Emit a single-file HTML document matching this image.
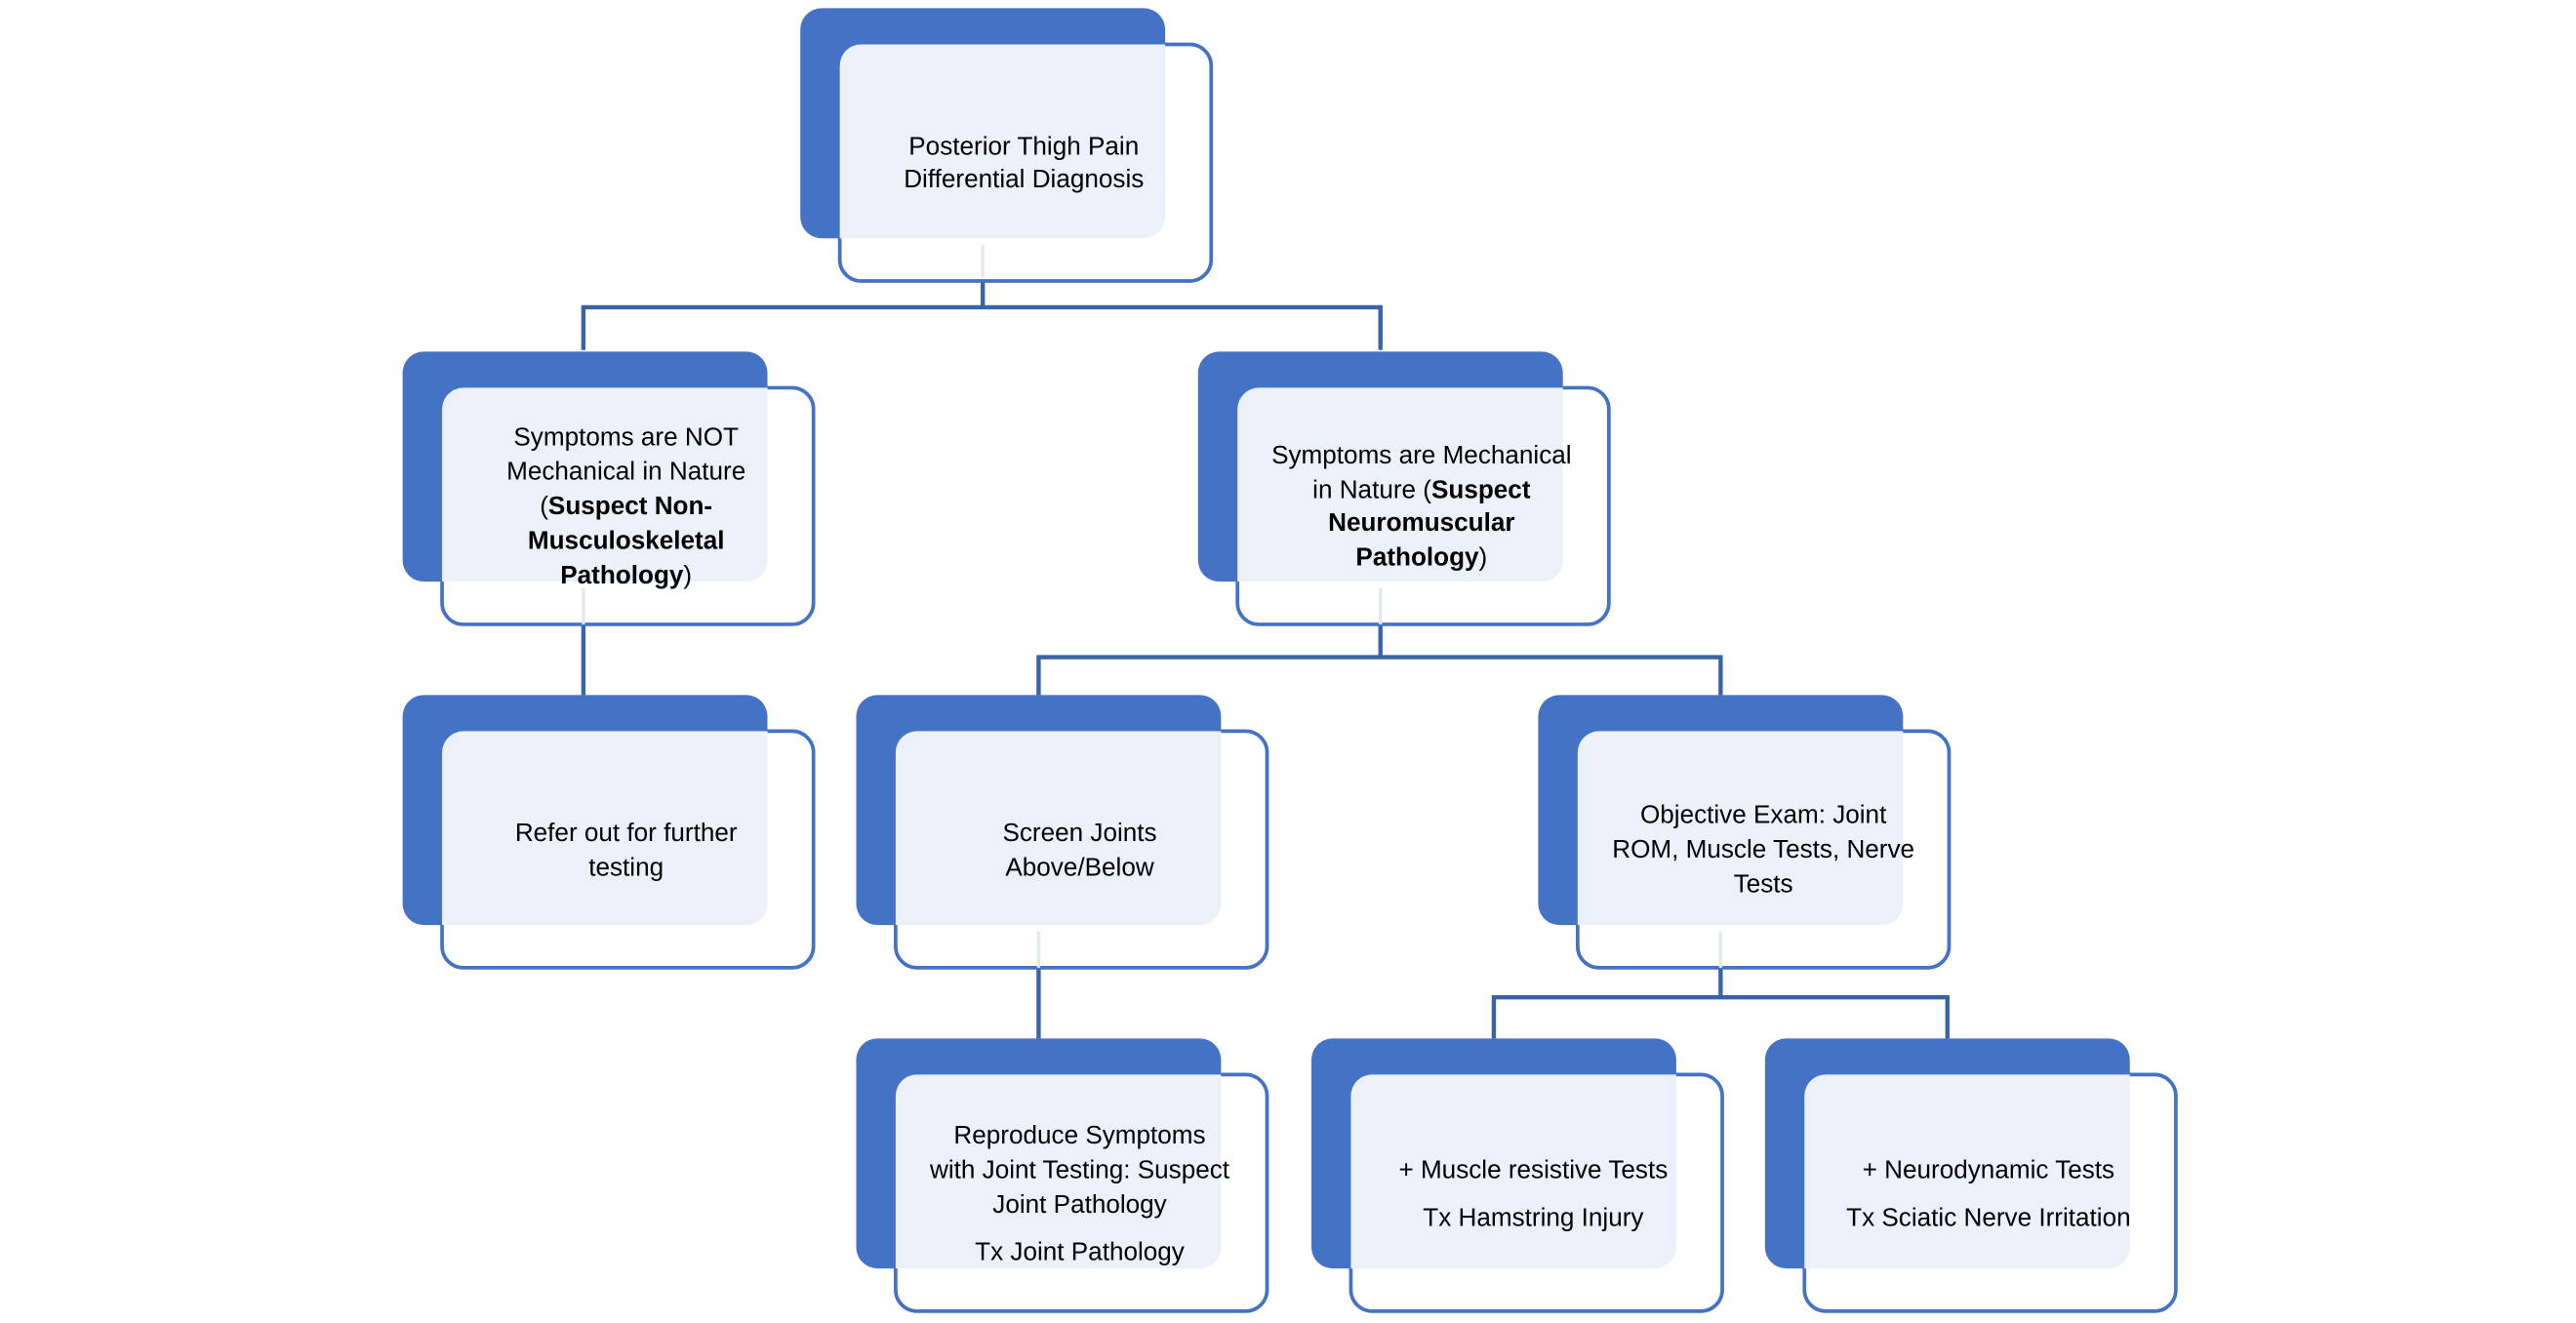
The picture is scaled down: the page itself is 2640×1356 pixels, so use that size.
<!DOCTYPE html>
<html><head><meta charset="utf-8"><style>
html,body{margin:0;padding:0;background:#fff;}
svg{display:block;}
text{font-family:"Liberation Sans",sans-serif;font-size:15.5px;fill:#000;text-anchor:middle;}
.b{font-weight:bold;}
</style></head><body>
<svg width="2640" height="1356" viewBox="0 0 1567.5 805.2" preserveAspectRatio="none" xmlns="http://www.w3.org/2000/svg">
<g stroke="#3A62A8" stroke-width="2.6" fill="none">
<polyline points="598,169 598,187"/>
<polyline points="355,213 355,187 840,187 840,213"/>
<polyline points="355,380 355,423"/>
<polyline points="840,380 840,400"/>
<polyline points="632,423 632,400 1047,400 1047,423"/>
<polyline points="632,589 632,632"/>
<polyline points="1047,589 1047,607"/>
<polyline points="909,632 909,607 1185,607 1185,632"/>
</g>
<defs>
<g id="n">
<rect x="0" y="0" width="222" height="140" rx="13" fill="#4472C4"/>
<rect x="24" y="22" width="226" height="144" rx="13" fill="#fff" stroke="#4472C4" stroke-width="2.2"/>
<path d="M24,35 a13,13 0 0 1 13,-13 H222 V127 a13,13 0 0 1 -13,13 H24 Z" fill="#ECF0F9"/>
</g>
</defs>
<use href="#n" x="487" y="5"/>
<use href="#n" x="245" y="214"/>
<use href="#n" x="729" y="214"/>
<use href="#n" x="245" y="423"/>
<use href="#n" x="521" y="423"/>
<use href="#n" x="936" y="423"/>
<use href="#n" x="521" y="632"/>
<use href="#n" x="798" y="632"/>
<use href="#n" x="1074" y="632"/>
<g stroke="#E3E8F3" stroke-width="2">
<line x1="598" y1="149" x2="598" y2="169"/>
<line x1="355" y1="358" x2="355" y2="380"/>
<line x1="840" y1="358" x2="840" y2="380"/>
<line x1="632" y1="567" x2="632" y2="589"/>
<line x1="1047" y1="567" x2="1047" y2="589"/>
</g>
<text x="623" y="94">Posterior Thigh Pain</text>
<text x="623" y="114">Differential Diagnosis</text>
<text x="381" y="271">Symptoms are NOT</text>
<text x="381" y="292">Mechanical in Nature</text>
<text x="381" y="313">(<tspan class="b">Suspect Non-</tspan></text>
<text x="381" y="334" class="b">Musculoskeletal</text>
<text x="381" y="355"><tspan class="b">Pathology</tspan>)</text>
<text x="865" y="282">Symptoms are Mechanical</text>
<text x="865" y="303">in Nature (<tspan class="b">Suspect</tspan></text>
<text x="865" y="323" class="b">Neuromuscular</text>
<text x="865" y="344"><tspan class="b">Pathology</tspan>)</text>
<text x="381" y="512">Refer out for further</text>
<text x="381" y="533">testing</text>
<text x="657" y="512">Screen Joints</text>
<text x="657" y="533">Above/Below</text>
<text x="1073" y="501">Objective Exam: Joint</text>
<text x="1073" y="522">ROM, Muscle Tests, Nerve</text>
<text x="1073" y="543">Tests</text>
<text x="657" y="696">Reproduce Symptoms</text>
<text x="657" y="717">with Joint Testing: Suspect</text>
<text x="657" y="738">Joint Pathology</text>
<text x="657" y="767">Tx Joint Pathology</text>
<text x="933" y="717">+ Muscle resistive Tests</text>
<text x="933" y="746">Tx Hamstring Injury</text>
<text x="1210" y="717">+ Neurodynamic Tests</text>
<text x="1210" y="746">Tx Sciatic Nerve Irritation</text>
</svg>
</body></html>
